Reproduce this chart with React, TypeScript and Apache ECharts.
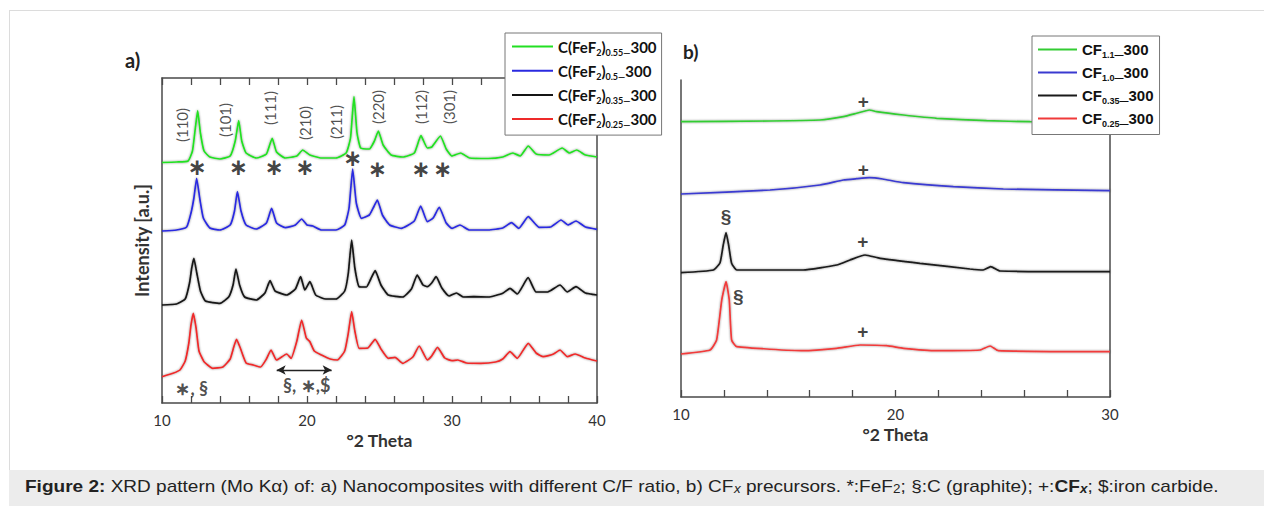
import React, { useEffect, useRef } from "react";
import * as echarts from "echarts";

// ---------- Panel a: nanocomposites C(FeF2)x_300 (2θ, intensity a.u.) ----------
const thetaTicksA = [10, 20, 30, 40];
const curveA055: [number, number][] = [
  [10.0, 240.5], [11.0, 241], [11.8, 242], [12.1, 252], [12.3, 275], [12.46, 292.3], [12.65, 270], [12.9, 252],
  [13.3, 246], [14.0, 244], [14.7, 247], [15.05, 262], [15.29, 282.3], [15.5, 262], [15.8, 250], [16.5, 245],
  [17.2, 249], [17.6, 264.7], [17.9, 251], [18.5, 245], [19.3, 247], [19.7, 253], [20.2, 248], [21.0, 245],
  [22.0, 245], [22.7, 250], [23.0, 265], [23.24, 306.3], [23.45, 270], [23.7, 255], [24.3, 254], [24.65, 262],
  [24.92, 272], [25.25, 258], [25.8, 248], [26.6, 246], [27.4, 250], [27.86, 267.3], [28.3, 255], [28.6, 256],
  [29.2, 267], [29.6, 254], [30.0, 247], [30.6, 250], [31.2, 245], [32.5, 244.5], [33.5, 246], [34.2, 250],
  [34.7, 247], [35.26, 257], [35.8, 249], [36.7, 248], [37.6, 255], [38.1, 250], [38.6, 253], [39.2, 248], [40.0, 246],
];
const curveA050: [number, number][] = [
  [10.0, 172], [11.0, 173], [11.7, 176], [12.0, 190], [12.2, 205], [12.39, 224.7], [12.6, 205], [12.85, 185],
  [13.3, 175], [14.0, 173], [14.7, 178], [15.0, 192], [15.2, 211.3], [15.45, 192], [15.8, 178], [16.5, 174],
  [17.2, 180], [17.56, 194.7], [17.9, 180], [18.5, 175.3], [19.2, 178], [19.63, 184], [20.0, 178], [20.4, 177],
  [21.0, 173], [22.0, 173], [22.6, 178], [22.9, 195], [23.15, 234], [23.4, 200], [23.75, 184.7], [24.3, 188],
  [24.6, 196], [24.85, 203], [25.2, 188], [25.7, 178], [26.5, 174.7], [27.4, 182], [27.84, 197], [28.3, 181.3],
  [28.7, 185], [29.12, 195.7], [29.6, 180], [30.0, 174.7], [30.55, 178], [31.2, 173], [32.5, 173], [33.5, 175],
  [34.1, 180.3], [34.6, 174.7], [35.26, 186.3], [36.0, 175.7], [36.8, 176], [37.52, 183], [38.0, 178],
  [38.55, 182], [39.2, 176], [40.0, 173.7],
];
const curveA035: [number, number][] = [
  [10.0, 98], [11.0, 99], [11.6, 104], [11.9, 120], [12.05, 135], [12.2, 144.7], [12.4, 130], [12.65, 112],
  [13.0, 102], [14.0, 99.7], [14.6, 106], [14.9, 118], [15.1, 134], [15.35, 118], [15.7, 106], [16.5, 103],
  [17.1, 110], [17.45, 122.3], [17.8, 112], [18.6, 108], [19.2, 114], [19.56, 126.3], [19.85, 113], [20.2, 121.3],
  [20.6, 108], [21.3, 104], [22.0, 104], [22.6, 112], [22.85, 130], [23.08, 163], [23.3, 135], [23.6, 116.3],
  [24.1, 116], [24.4, 124], [24.7, 132.3], [25.1, 118], [25.6, 108], [26.6, 106], [27.2, 114], [27.6, 128],
  [28.0, 118], [28.3, 116.3], [28.6, 120], [28.9, 126.3], [29.3, 115], [29.8, 107], [30.3, 110], [30.8, 106],
  [31.5, 106.3], [32.5, 106], [33.5, 109.7], [34.0, 114.7], [34.5, 109], [35.25, 125.3], [35.8, 111], [36.6, 111],
  [37.45, 118], [37.95, 111], [38.55, 116.3], [39.2, 110], [40.0, 108],
];
const curveA025: [number, number][] = [
  [10.0, 26.3], [10.8, 30], [11.24, 33], [11.6, 42], [11.85, 60], [12.0, 78], [12.16, 89.7], [12.35, 75],
  [12.55, 52], [12.9, 41.3], [13.5, 34.7], [14.2, 36], [14.7, 44], [14.95, 56], [15.14, 63.7], [15.4, 55],
  [15.8, 40], [16.3, 38], [16.8, 36], [17.2, 44], [17.52, 53], [17.9, 43], [18.6, 49], [18.9, 44.7], [19.3, 62],
  [19.63, 83], [19.95, 65], [20.2, 61.3], [20.5, 52], [21.0, 48], [21.6, 44], [22.1, 43], [22.6, 52], [22.85, 70],
  [23.08, 91.3], [23.3, 72], [23.6, 54.7], [24.2, 55], [24.7, 63.7], [25.1, 54], [25.6, 44.7], [26.07, 45.7],
  [26.6, 39.7], [27.3, 46], [27.74, 57], [28.3, 43], [28.6, 47], [29.0, 55.7], [29.5, 45], [30.0, 42.3],
  [30.4, 43], [31.0, 40], [32.0, 39.7], [33.0, 41], [33.5, 44], [34.0, 51.3], [34.5, 44.7], [35.26, 59.7],
  [35.8, 50], [36.3, 46.3], [37.0, 49], [37.45, 53], [37.95, 46.3], [38.5, 49], [39.2, 45], [40.0, 42],
];
const seriesNamesA = ["C(FeF2)0.55_300", "C(FeF2)0.5_300", "C(FeF2)0.35_300", "C(FeF2)0.25_300"];
const subsA = ["0.55", "0.5", "0.35", "0.25"];
const colorsA = ["#22e022", "#2a2ae0", "#151515", "#ee2a2a"];
const millerA: [number, number, string][] = [
  [11.38, 278, "(110)"], [14.34, 283, "(101)"], [17.45, 295, "(111)"], [19.86, 280, "(210)"],
  [21.98, 281, "(211)"], [24.92, 296, "(220)"], [27.86, 296, "(112)"], [29.81, 296, "(301)"],
];
const starsA: [number, number][] = [
  [12.43, 236], [15.26, 236], [17.74, 236], [19.86, 236], [23.15, 245], [24.85, 234], [27.86, 234], [29.36, 234],
];
const notesA: [number, number, string][] = [[12.05, 14.7, "∗, §"], [19.98, 18, "§, ∗,$"]];
const arrowA: [number, number][] = [[17.91, 33], [21.7, 33]];

// ---------- Panel b: CFx precursors ----------
const thetaTicksB = [10, 20, 30];
const curveB11: [number, number][] = [
  [10.0, 275.3], [14.15, 276], [16.48, 277], [17.57, 280.3], [18.19, 283.7], [18.78, 287], [19.12, 285.3],
  [20.37, 282], [21.92, 278.7], [24.25, 276.3], [26.27, 275.3], [30.0, 275],
];
const curveB10: [number, number][] = [
  [10.0, 203], [14.15, 207], [16.48, 212], [17.57, 217], [18.19, 218.3], [18.78, 219.3], [19.4, 218],
  [20.37, 214.3], [22.7, 210.3], [25.03, 208], [30.0, 206.3],
];
const curveB035: [number, number][] = [
  [10.0, 124.3], [11.51, 127], [11.82, 134.3], [11.97, 152], [12.1, 164.3], [12.22, 152], [12.36, 133.7],
  [12.6, 127], [15.7, 127], [17.26, 132], [17.88, 137], [18.58, 142], [19.28, 138.7], [21.14, 133.7],
  [23.47, 128], [24.09, 127], [24.44, 130.3], [24.87, 126], [30.0, 125.3],
];
const curveB025: [number, number][] = [
  [10.0, 43], [11.35, 47], [11.66, 57], [11.9, 97], [12.1, 115.3], [12.25, 97], [12.36, 57], [12.6, 50.3],
  [15.7, 46.3], [17.26, 48.7], [18.35, 52], [19.59, 51.3], [20.37, 48.7], [21.92, 46.3], [23.94, 47],
  [24.41, 51], [24.79, 46.3], [30.0, 45.3],
];
const seriesNamesB = ["CF1.1_300", "CF1.0_300", "CF0.35_300", "CF0.25_300"];
const subsB = ["1.1", "1.0", "0.35", "0.25"];
const colorsB = ["#33cc33", "#3a3ad0", "#1a1a1a", "#f03a3a"];
const notesB: [number, number, string][] = [
  [18.5, 295.3, "+"], [18.5, 228, "+"], [12.1, 181, "§"], [18.47, 155.3, "+"], [12.67, 100.3, "§"], [18.47, 65.3, "+"],
];

const AXIS = "#4a4a4a";
const CAL = "Lato, 'Open Sans', sans-serif";
const ARIAL = "'Liberation Sans', Arial, sans-serif";

export default function App() {
  const ref = useRef<HTMLDivElement>(null);
  useEffect(() => {
    if (!ref.current) return;
    const chart = echarts.init(ref.current, null, { renderer: "svg" });

    const xAxisBase = (gridIndex: number, min: number, max: number, ticks: number[]) => ({
      type: "value" as const,
      gridIndex,
      min,
      max,
      interval: 2,
      axisLine: { show: true, onZero: false, lineStyle: { color: AXIS, width: 1.5 } },
      axisTick: { show: true, inside: true, length: 7, lineStyle: { color: AXIS, width: 1.3 } },
      splitLine: { show: false },
      axisLabel: {
        show: true,
        margin: 9,
        color: "#333",
        fontFamily: CAL,
        fontSize: 15,
        showMinLabel: true,
        showMaxLabel: true,
        formatter: (v: number) => (ticks.includes(v) ? String(v) : ""),
      },
      name: "°2 Theta",
      nameLocation: "middle" as const,
      nameGap: 27,
      nameTextStyle: { fontFamily: CAL, fontWeight: "bold" as const, fontSize: 17.5, color: "#333" },
    });

    const lineSeries = (name: string, data: [number, number][], color: string, idx: number) => ({
      type: "line" as const,
      name,
      xAxisIndex: idx,
      yAxisIndex: idx === 0 ? 0 : 2,
      data,
      symbol: "none",
      smooth: 0.15,
      color,
      lineStyle: { color, width: 1.7, shadowColor: "rgba(0,0,0,0.45)", shadowBlur: 2 },
      z: 3,
    });

    const richA = {
      n: { fontFamily: CAL, fontWeight: "bold", fontSize: 15, color: "#111", lineHeight: 20, verticalAlign: "middle" },
      s: { fontFamily: CAL, fontWeight: "bold", fontSize: 9, color: "#111", lineHeight: 8, verticalAlign: "bottom" },
    };
    const richB = {
      n: { fontFamily: ARIAL, fontWeight: "bold", fontSize: 15, color: "#111", lineHeight: 20, verticalAlign: "middle" },
      s: { fontFamily: ARIAL, fontWeight: "bold", fontSize: 9, color: "#111", lineHeight: 8, verticalAlign: "bottom" },
    };

    const option: any = {
      animation: false,
      backgroundColor: "#fff",
      grid: [
        { left: 162, top: 78, width: 435, height: 325 },
        { left: 681, top: 80, width: 429, height: 317 },
      ],
      xAxis: [
        xAxisBase(0, 10, 40, thetaTicksA),
        {
          type: "value", gridIndex: 0, position: "top", min: 10, max: 40, interval: 2,
          axisLine: { show: true, onZero: false, lineStyle: { color: AXIS, width: 1.5 } },
          axisTick: { show: true, inside: true, length: 7, lineStyle: { color: AXIS, width: 1.3 } },
          axisLabel: { show: false }, splitLine: { show: false },
        },
        xAxisBase(1, 10, 30, thetaTicksB),
      ],
      yAxis: [
        {
          type: "value", gridIndex: 0, min: 0, max: 325, position: "left",
          axisLine: { show: true, onZero: false, lineStyle: { color: AXIS, width: 1.5 } },
          axisTick: { show: false }, axisLabel: { show: false }, splitLine: { show: false },
          name: "Intensity [a.u.]", nameLocation: "middle", nameGap: 11, nameRotate: 90,
          nameTextStyle: { fontFamily: CAL, fontWeight: "bold", fontSize: 18, color: "#333" },
        },
        {
          type: "value", gridIndex: 0, min: 0, max: 325, position: "right",
          axisLine: { show: true, onZero: false, lineStyle: { color: AXIS, width: 1.5 } },
          axisTick: { show: false }, axisLabel: { show: false }, splitLine: { show: false },
        },
        {
          type: "value", gridIndex: 1, min: 0, max: 317, position: "left",
          axisLine: { show: true, onZero: false, lineStyle: { color: AXIS, width: 1.5 } },
          axisTick: { show: false }, axisLabel: { show: false }, splitLine: { show: false },
        },
        {
          type: "value", gridIndex: 1, min: 0, max: 317, position: "right",
          axisLine: { show: true, onZero: false, lineStyle: { color: AXIS, width: 1.5 } },
          axisTick: { show: false }, axisLabel: { show: false }, splitLine: { show: false },
        },
      ],
      legend: [
        {
          orient: "vertical", left: 505, top: 33, padding: [6, 5, 6, 7], itemGap: 6.7,
          itemWidth: 41, itemHeight: 2, icon: "rect", borderColor: "#777", borderWidth: 1, backgroundColor: "#fff",
          selectedMode: false, data: seriesNamesA, z: 10,
          formatter: (name: string) => {
            const i = seriesNamesA.indexOf(name);
            return `{n|C(FeF}{s|2}{n|)}{s|${subsA[i]}—}{n|300}`;
          },
          textStyle: { rich: richA },
        },
        {
          orient: "vertical", left: 1032, top: 36, padding: [6, 6, 6, 6], itemGap: 5.5,
          itemWidth: 39, itemHeight: 2, icon: "rect", borderColor: "#777", borderWidth: 1, backgroundColor: "#fff",
          selectedMode: false, data: seriesNamesB, z: 10,
          formatter: (name: string) => {
            const i = seriesNamesB.indexOf(name);
            return `{n|CF}{s|${subsB[i]}—}{n|300}`;
          },
          textStyle: { rich: richB },
        },
      ],
      series: [
        lineSeries(seriesNamesA[0], curveA055, colorsA[0], 0),
        lineSeries(seriesNamesA[1], curveA050, colorsA[1], 0),
        lineSeries(seriesNamesA[2], curveA035, colorsA[2], 0),
        lineSeries(seriesNamesA[3], curveA025, colorsA[3], 0),
        lineSeries(seriesNamesB[0], curveB11, colorsB[0], 2),
        lineSeries(seriesNamesB[1], curveB10, colorsB[1], 2),
        lineSeries(seriesNamesB[2], curveB035, colorsB[2], 2),
        lineSeries(seriesNamesB[3], curveB025, colorsB[3], 2),
        {
          type: "scatter", xAxisIndex: 0, yAxisIndex: 0, symbolSize: 0, silent: true, z: 5,
          data: millerA.map((m) => ({ value: [m[0], m[1]], label: { formatter: m[2] } })),
          label: { show: true, position: "inside", rotate: 90, fontFamily: CAL, fontSize: 15, color: "#222" },
        },
        {
          type: "scatter", xAxisIndex: 0, yAxisIndex: 0, symbolSize: 0, silent: true, z: 5,
          data: starsA.map((s) => ({ value: [s[0], s[1]] })),
          label: { show: true, position: "inside", formatter: "∗", fontFamily: "'DejaVu Sans'", fontWeight: "bold", fontSize: 23, color: "#111" },
        },
        {
          type: "scatter", xAxisIndex: 0, yAxisIndex: 0, symbolSize: 0, silent: true, z: 5,
          data: notesA.map((s) => ({ value: [s[0], s[1]], label: { formatter: s[2] } })),
          label: { show: true, position: "inside", fontFamily: CAL, fontWeight: "bold", fontSize: 18, color: "#222" },
          markLine: {
            silent: true, symbol: ["arrow", "arrow"], symbolSize: [7, 9],
            label: { show: false },
            lineStyle: { color: "#222", width: 1.3, type: "solid" },
            data: [[{ coord: arrowA[0] }, { coord: arrowA[1] }]],
          },
        },
        {
          type: "scatter", xAxisIndex: 2, yAxisIndex: 2, symbolSize: 0, silent: true, z: 5,
          data: notesB.map((s) => ({ value: [s[0], s[1]], label: { formatter: s[2] } })),
          label: { show: true, position: "inside", fontFamily: ARIAL, fontWeight: "bold", fontSize: 19, color: "#111" },
        },
      ],
      graphic: [
        { type: "line", silent: true, shape: { x1: 9, y1: 10.5, x2: 1264, y2: 10.5 }, style: { stroke: "#dcdcdc", lineWidth: 1 } },
        { type: "line", silent: true, shape: { x1: 9.5, y1: 10, x2: 9.5, y2: 470 }, style: { stroke: "#dcdcdc", lineWidth: 1 } },
        { type: "rect", silent: true, shape: { x: 9, y: 470, width: 1255, height: 36 }, style: { fill: "#ececec" } },
        {
          type: "text", x: 25, y: 478, scaleX: 1.12, silent: true,
          style: {
            text: "{b|Figure 2:} XRD pattern (Mo Kα) of: a) Nanocomposites with different C/F ratio, b) CF{i|x} precursors. *:FeF{s|2}; §:C (graphite); +:{b|CF}{bi|x}; $:iron carbide.",
            fontFamily: ARIAL, fontSize: 17, fill: "#222",
            rich: {
              b: { fontFamily: ARIAL, fontWeight: "bold", fontSize: 17, fill: "#222" },
              i: { fontFamily: ARIAL, fontStyle: "italic", fontSize: 12, fill: "#222", verticalAlign: "bottom", lineHeight: 11 },
              bi: { fontFamily: ARIAL, fontStyle: "italic", fontWeight: "bold", fontSize: 12, fill: "#222", verticalAlign: "bottom", lineHeight: 11 },
              s: { fontFamily: ARIAL, fontSize: 12, fill: "#222", verticalAlign: "bottom", lineHeight: 11 },
            },
          },
        },
        { type: "text", left: 125, top: 50, silent: true, style: { text: "a)", fontFamily: CAL, fontWeight: "bold", fontSize: 20, fill: "#222" } },
        { type: "text", left: 683, top: 42, silent: true, style: { text: "b)", fontFamily: CAL, fontWeight: "bold", fontSize: 19, fill: "#222" } },
      ],
    };
    chart.setOption(option);
    return () => chart.dispose();
  }, []);
  return <div ref={ref} style={{ position: "absolute", left: 0, top: 0, width: 1264, height: 506 }} />;
}
